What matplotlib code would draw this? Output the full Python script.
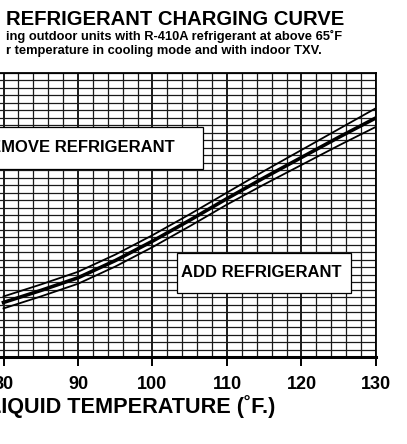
import matplotlib.pyplot as plt
import numpy as np
from matplotlib.patches import Rectangle

plt.rcParams['font.family'] = ['Liberation Sans', 'DejaVu Sans']
plt.rcParams['font.weight'] = 'bold'

# liquid temperature (F) and liquid pressure (psig)
temp = [80, 85, 90, 95, 100, 105, 110, 115, 120, 125, 130]
press_mid = [273, 289, 306, 329, 355, 383, 412, 440, 467, 494, 520]
press_hi = [281, 297, 314, 337, 363, 391, 420, 449, 477, 505, 533]
press_lo = [265, 281, 298, 321, 347, 375, 404, 431, 457, 483, 508]

xticks = [80, 90, 100, 110, 120, 130]

fig = plt.figure(figsize=(4.07, 4.44), dpi=100)
# chart is cut off on the left, so the axes start outside the figure
ax = fig.add_axes([-71 / 407, 87 / 444, 447 / 407, 284 / 444])
ax.set_xlim(70, 130)
ax.set_ylim(200, 580)

# grid paper
for gx in np.arange(70, 131, 2):
    lw = 1.4 if gx % 10 == 0 else 0.9
    ax.axvline(gx, color='#1a1a1a', lw=lw, zorder=1)
for gy in np.arange(200, 581, 10):
    ax.axhline(gy, color='#1a1a1a', lw=0.9, zorder=1)

# curves
ax.plot(temp, press_hi, color='black', lw=1.3, zorder=4)
ax.plot(temp, press_lo, color='black', lw=1.3, zorder=4)
ax.plot(temp, press_mid, color='black', lw=2.6, zorder=4)

# label boxes
ax.add_patch(Rectangle((0.13, 0.662), 0.483, 0.148, transform=ax.transAxes,
                       facecolor='white', edgecolor='black', lw=0.9, zorder=3))
ax.text(0.550, 0.736, 'REMOVE REFRIGERANT', transform=ax.transAxes,
        ha='right', va='center', fontsize=12, fontweight='bold', zorder=5)
ax.add_patch(Rectangle((0.554, 0.225), 0.389, 0.141, transform=ax.transAxes,
                       facecolor='white', edgecolor='black', lw=0.9, zorder=3))
ax.text(0.744, 0.297, 'ADD REFRIGERANT', transform=ax.transAxes,
        ha='center', va='center', fontsize=12, fontweight='bold', zorder=5)

ax.set_xticks(xticks)
ax.set_xticklabels([str(t) for t in xticks], fontsize=13, fontweight='bold')
ax.set_yticks([])
ax.tick_params(axis='x', length=6.5, width=1.4, pad=7.5, direction='out')
ax.spines['bottom'].set_linewidth(2.2)
ax.spines['right'].set_linewidth(1.3)
ax.spines['top'].set_linewidth(1.3)
ax.spines['left'].set_visible(False)

fig.text(6 / 407, 1 - 25 / 444, 'REFRIGERANT CHARGING CURVE', fontsize=14.6,
         fontweight='bold', ha='left', va='baseline')
fig.text(6 / 407, 1 - 40 / 444, 'ing outdoor units with R-410A refrigerant at above 65˚F',
         fontsize=9.3, fontweight='bold', ha='left', va='baseline')
fig.text(6 / 407, 1 - 54 / 444, 'r temperature in cooling mode and with indoor TXV.',
         fontsize=9.3, fontweight='bold', ha='left', va='baseline')
fig.text(275 / 407, 1 - 413 / 444, 'LIQUID TEMPERATURE (˚F.)', fontsize=15.6,
         fontweight='bold', ha='right', va='baseline')

fig.savefig('out.png', dpi=100)
